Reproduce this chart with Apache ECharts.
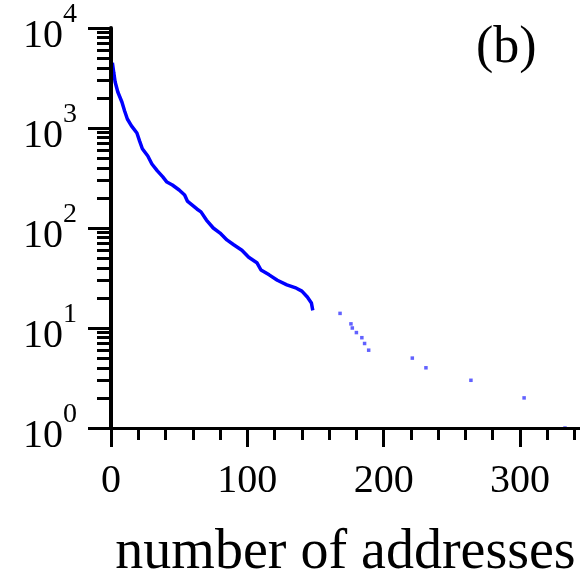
<!DOCTYPE html>
<html>
<head>
<meta charset="utf-8">
<script src="https://cdn.jsdelivr.net/npm/echarts@6/dist/echarts.min.js"></script>
<style>
  html, body { margin: 0; padding: 0; background: #fff; }
  #chart { width: 580px; height: 574px; }
</style>
</head>
<body>
<div id="chart"></div>
<script>
// Dense head of the distribution, drawn as a continuous curve
const denseAddresses = [1, 2, 3, 5, 8, 10, 12, 15, 19, 21, 23, 27, 30, 34, 38, 41, 45, 50, 54, 56,
  63, 66, 70, 75, 80, 85, 90, 96, 101, 107, 110, 116, 122, 129, 136, 140, 144, 147, 148];
const denseCounts = [4500, 3600, 2900, 2290, 1820, 1480, 1230, 1050, 890, 740, 620, 525, 437, 372, 324, 288, 269, 240, 214, 186,
  155, 145, 120, 100, 89, 76, 68, 60, 51, 45, 38, 34, 30, 27, 25, 23.4, 20.4, 17.8, 15];

// Sparse tail: isolated points
const tailAddresses = [168, 176, 177, 180, 184, 186, 189, 221, 231, 264, 303, 333];
const tailCounts = [14, 11, 10, 9, 8, 7, 6, 5, 4, 3, 2, 1];

// Axis ticks
const xMajorTicks = [0, 100, 200, 300];
const xMinorTicks = [20, 40, 60, 80, 120, 140, 160, 180, 220, 240, 260, 280, 320, 340];
const yMajorTicks = [1, 10, 100, 1000, 10000];
const yMinorTicks = [2, 3, 4, 5, 6, 7, 8, 9,
  20, 30, 40, 50, 60, 70, 80, 90,
  200, 300, 400, 500, 600, 700, 800, 900,
  2000, 3000, 4000, 5000, 6000, 7000, 8000, 9000];

const SERIF = "'Liberation Serif', 'Times New Roman', serif";
const X_MAX = 344;
const black = '#000';

const chart = echarts.init(document.getElementById('chart'), null, { renderer: 'canvas' });

chart.setOption({
  animation: false,
  backgroundColor: '#fff',
  grid: { left: 111, top: 28, width: 469, height: 400, containLabel: false, outerBoundsMode: 'none' },
  xAxis: [
    {
      type: 'value', min: 0, max: X_MAX, position: 'bottom', z: 5,
      axisLine: { show: true, onZero: false, lineStyle: { color: black, width: 3 } },
      axisTick: { show: true, customValues: xMajorTicks, length: 19, lineStyle: { color: black, width: 3 } },
      axisLabel: {
        customValues: xMajorTicks, margin: 33,
        fontFamily: SERIF, fontSize: 40, color: black
      },
      splitLine: { show: false },
      name: 'number of addresses', nameLocation: 'middle', nameGap: 97,
      nameTextStyle: { fontFamily: SERIF, fontSize: 56, color: black }
    },
    {
      type: 'value', min: 0, max: X_MAX, position: 'bottom', offset: 0, z: 5,
      axisLine: { show: false },
      axisTick: { show: true, customValues: xMinorTicks, length: 12, lineStyle: { color: black, width: 3 } },
      axisLabel: { show: false },
      splitLine: { show: false }
    }
  ],
  yAxis: [
    {
      type: 'log', logBase: 10, min: 1, max: 10000, position: 'left', z: 5,
      axisLine: { show: true, onZero: false, lineStyle: { color: black, width: 4 } },
      axisTick: { show: true, customValues: yMajorTicks, length: 23, lineStyle: { color: black, width: 3 } },
      axisLabel: {
        customValues: yMajorTicks, margin: 34,
        formatter: function (v) {
          return '{b|10}{s|' + Math.round(Math.log10(v)) + '}';
        },
        rich: {
          b: { fontFamily: SERIF, fontSize: 40, color: black, padding: [16, 0, 0, 0] },
          s: { fontFamily: SERIF, fontSize: 28, color: black, padding: [0, 0, 27, 0] }
        }
      },
      splitLine: { show: false }
    },
    {
      type: 'log', logBase: 10, min: 1, max: 10000, position: 'left', offset: 0, z: 5,
      axisLine: { show: false },
      axisTick: { show: true, customValues: yMinorTicks, length: 14, lineStyle: { color: black, width: 3 } },
      axisLabel: { show: false },
      splitLine: { show: false }
    }
  ],
  series: [
    {
      type: 'line',
      xAxisIndex: 0, yAxisIndex: 0,
      data: denseAddresses.map((a, i) => [a, denseCounts[i]]),
      showSymbol: false,
      lineStyle: { color: '#0000ff', width: 3.5 },
      z: 2
    },
    {
      type: 'scatter',
      xAxisIndex: 0, yAxisIndex: 0,
      data: tailAddresses.map((a, i) => [a, tailCounts[i]]),
      symbol: 'rect', symbolSize: 3.5,
      itemStyle: { color: '#3a3aff' },
      clip: false,
      z: 2
    }
  ],
  graphic: [
    {
      type: 'text', left: 476, top: 22,
      style: { text: '(b)', font: '52px ' + SERIF, fill: black }
    }
  ]
});
</script>
</body>
</html>
